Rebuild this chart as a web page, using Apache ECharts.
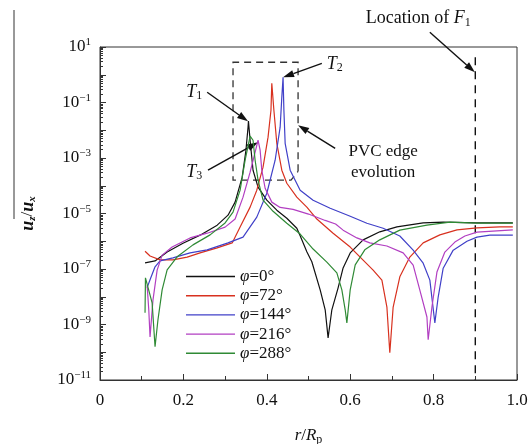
<!DOCTYPE html>
<html><head><meta charset="utf-8">
<script src="https://cdn.jsdelivr.net/npm/echarts@6/dist/echarts.min.js"></script>
<style>html,body{margin:0;padding:0;background:#fff}#c{width:532px;height:444px}</style>
</head><body><div id="c"></div>
<script>
// ---- data (x = r/Rp, y = log10(uz/ux)) ----
const seriesNames = ['φ=0°', 'φ=72°', 'φ=144°', 'φ=216°', 'φ=288°'];
const seriesColors = ['#111111', '#d8311f', '#4040c8', '#b23fc2', '#2f8a35'];

const phi0X = [0.108,0.132,0.161,0.199,0.240,0.281,0.307,0.324,0.341,0.350,0.355,0.356,0.360,0.367,0.379,0.400,0.424,0.448,0.472,0.480,0.496,0.508,0.528,0.540,0.547,0.556,0.571,0.583,0.600,0.631,0.671,0.712,0.775,0.823,0.904,0.990];
const phi0Log = [-6.78,-6.71,-6.39,-6.07,-5.78,-5.42,-5.06,-4.59,-3.69,-2.72,-1.89,-1.67,-2.36,-3.44,-4.05,-4.52,-4.88,-5.17,-5.53,-5.80,-6.38,-6.74,-7.75,-8.47,-9.48,-8.47,-7.68,-6.96,-6.42,-5.95,-5.66,-5.48,-5.34,-5.31,-5.34,-5.34];

const phi72X = [0.108,0.120,0.144,0.175,0.209,0.240,0.281,0.317,0.336,0.360,0.376,0.391,0.403,0.410,0.412,0.417,0.424,0.436,0.448,0.472,0.496,0.520,0.559,0.600,0.631,0.655,0.676,0.688,0.695,0.703,0.719,0.743,0.775,0.815,0.856,0.904,0.959,0.990];
const phi72Log = [-6.36,-6.53,-6.67,-6.67,-6.57,-6.42,-6.24,-6.06,-5.49,-4.77,-4.16,-3.33,-2.25,-1.28,-0.31,-1.28,-2.47,-3.44,-3.91,-4.41,-4.77,-5.20,-5.71,-6.21,-6.68,-7.04,-7.40,-8.37,-10.02,-8.37,-7.28,-6.57,-6.06,-5.77,-5.59,-5.52,-5.48,-5.48];

const phi144X = [0.113,0.120,0.132,0.144,0.175,0.216,0.257,0.307,0.343,0.376,0.400,0.420,0.432,0.436,0.439,0.441,0.444,0.456,0.480,0.511,0.552,0.600,0.640,0.679,0.719,0.751,0.775,0.791,0.803,0.811,0.823,0.847,0.880,0.904,0.935,0.990];
const phi144Log = [-7.67,-7.39,-6.92,-6.71,-6.60,-6.42,-6.31,-6.06,-5.85,-5.13,-4.27,-3.08,-1.89,-0.81,-0.09,-1.28,-2.47,-3.44,-4.16,-4.52,-4.81,-5.10,-5.35,-5.53,-5.81,-6.32,-6.79,-7.40,-8.94,-8.01,-6.97,-6.32,-6.00,-5.85,-5.78,-5.78];

const phi216X = [0.113,0.117,0.120,0.127,0.137,0.149,0.173,0.216,0.257,0.300,0.324,0.343,0.360,0.372,0.379,0.384,0.388,0.396,0.412,0.432,0.463,0.500,0.540,0.565,0.583,0.616,0.647,0.688,0.727,0.751,0.767,0.784,0.787,0.796,0.808,0.827,0.851,0.875,0.904,0.990];
const phi216Log = [-7.58,-8.48,-9.45,-8.12,-7.04,-6.50,-6.21,-5.88,-5.71,-5.49,-5.20,-4.41,-3.51,-2.79,-2.36,-2.72,-3.44,-4.09,-4.59,-4.78,-4.85,-5.02,-5.25,-5.38,-5.60,-5.88,-6.06,-6.17,-6.42,-6.86,-7.76,-8.73,-9.55,-8.37,-7.11,-6.39,-6.03,-5.81,-5.67,-5.59];

const phi288X = [0.108,0.109,0.125,0.132,0.139,0.149,0.161,0.185,0.223,0.264,0.300,0.319,0.336,0.348,0.360,0.367,0.372,0.379,0.391,0.415,0.448,0.480,0.511,0.544,0.568,0.580,0.588,0.592,0.600,0.612,0.635,0.671,0.719,0.784,0.839,0.904,0.990];
const phi288Log = [-8.58,-7.32,-8.22,-9.80,-8.83,-7.75,-7.03,-6.56,-6.13,-5.77,-5.34,-4.95,-4.16,-3.08,-2.21,-2.36,-3.08,-3.80,-4.52,-4.92,-5.35,-5.74,-6.28,-6.75,-7.14,-7.75,-8.47,-8.94,-7.75,-6.85,-6.31,-5.95,-5.60,-5.42,-5.31,-5.35,-5.35];

const yLabelExps = [1, -1, -3, -5, -7, -9, -11];
const yDecadeExps = [1,0,-1,-2,-3,-4,-5,-6,-7,-8,-9,-10,-11];
const fLocationX = 0.9;

// ---- chart ----
const FONT = '"Liberation Serif", "Times New Roman", serif';
const FS = 17;
const chart = echarts.init(document.getElementById('c'), null, {renderer: 'canvas'});

const xsList = [phi0X, phi72X, phi144X, phi216X, phi288X];
const lsList = [phi0Log, phi72Log, phi144Log, phi216Log, phi288Log];

const minorY = [];
for (let n = -11; n < 1; n++) for (let k = 2; k <= 9; k++) minorY.push(n + Math.log10(k));

const supRich = {
  b: {fontFamily: FONT, fontSize: FS, lineHeight: 20, color: '#111'},
  s: {fontFamily: FONT, fontSize: 11, lineHeight: 11, verticalAlign: 'top', color: '#111'}
};

chart.setOption({
  animation: false,
  backgroundColor: '#fff',
  grid: {left: 100, top: 47, width: 417, height: 333, show: true, borderColor: '#333', borderWidth: 1,
         containLabel: false, outerBoundsMode: 'none'},
  legend: {
    data: seriesNames, orient: 'vertical', left: 181, top: 263,
    icon: 'rect', itemWidth: 49, itemHeight: 1.4, itemGap: 2.2,
    formatter: n => '{i|φ}{r|' + n.slice(1) + '}',
    textStyle: {fontFamily: FONT, fontSize: FS, color: '#111', lineHeight: 17,
      rich: {i: {fontFamily: FONT, fontSize: FS, fontStyle: 'italic', color: '#111', lineHeight: 17},
             r: {fontFamily: FONT, fontSize: FS, color: '#111', lineHeight: 17}}}
  },
  xAxis: {
    type: 'value', min: 0, max: 1, interval: 0.2,
    axisLine: {show: true, onZero: false, lineStyle: {color: '#333', width: 1}},
    axisTick: {show: true, inside: true, length: 6, lineStyle: {color: '#333'}},
    minorTick: {show: true, splitNumber: 2, length: 4, lineStyle: {color: '#333'}},
    splitLine: {show: false},
    axisLabel: {margin: 12, fontFamily: FONT, fontSize: FS, color: '#111',
      formatter: v => v === 0 ? '0' : v.toFixed(1)},
    name: '{i|r}{n|/}{i|R}{s|p}', nameLocation: 'middle', nameGap: 46,
    nameTextStyle: {rich: {
      i: {fontFamily: FONT, fontSize: FS, fontStyle: 'italic', color: '#111', lineHeight: 20},
      n: {fontFamily: FONT, fontSize: FS, color: '#111', lineHeight: 20},
      s: {fontFamily: FONT, fontSize: 12, color: '#111', lineHeight: 12, verticalAlign: 'bottom'}}}
  },
  yAxis: [{
    type: 'value', min: -11, max: 1,
    axisLine: {show: true, onZero: false, lineStyle: {color: '#333', width: 1}},
    axisTick: {show: true, inside: true, length: 6, customValues: yDecadeExps, lineStyle: {color: '#333'}},
    splitLine: {show: false},
    axisLabel: {margin: 9, customValues: yLabelExps,
      formatter: v => { const e = Math.round(v); return '{b|10}{s|' + (e < 0 ? '−' : '') + Math.abs(e) + '}'; },
      rich: supRich},
    name: '{i|u}{s|z}{n|/}{i|u}{s|x}', nameLocation: 'middle', nameGap: 62, nameRotate: 90,
    nameTextStyle: {rich: {
      i: {fontFamily: FONT, fontSize: FS + 1, fontStyle: 'italic', fontWeight: 'bold', color: '#111', lineHeight: 20},
      n: {fontFamily: FONT, fontSize: FS, color: '#111', lineHeight: 20},
      s: {fontFamily: FONT, fontSize: 11, fontStyle: 'italic', fontWeight: 'bold', color: '#111', lineHeight: 11, verticalAlign: 'bottom'}}}
  }, {
    type: 'value', min: -11, max: 1, position: 'left', offset: 0,
    axisLine: {show: false, onZero: false},
    axisTick: {show: true, inside: true, length: 3, customValues: minorY, lineStyle: {color: '#333'}},
    axisLabel: {show: false}, splitLine: {show: false}
  }],
  series: seriesNames.map((name, i) => ({
    name, type: 'line', symbol: 'none', showSymbol: false, smooth: false,
    color: seriesColors[i],
    lineStyle: {color: seriesColors[i], width: 1.2},
    data: xsList[i].map((x, j) => [x, lsList[i][j]]),
    z: 2 + i
  }))
});

// ---- annotations placed through the axes ----
function P(x, L) { return chart.convertToPixel({xAxisIndex: 0, yAxisIndex: 0}, [x, L]); }
function arrow(a, b) {
  const dx = b[0] - a[0], dy = b[1] - a[1], len = Math.hypot(dx, dy);
  const ux = dx / len, uy = dy / len, h = 11, w = 3.6;
  const base = [b[0] - ux * h, b[1] - uy * h];
  return [
    {type: 'line', shape: {x1: a[0], y1: a[1], x2: base[0], y2: base[1]}, style: {stroke: '#111', lineWidth: 1.4}},
    {type: 'polygon', shape: {points: [b, [base[0] - uy * w, base[1] + ux * w], [base[0] + uy * w, base[1] - ux * w]]}, style: {fill: '#111'}}
  ];
}
const tRich = {
  t: {fontFamily: FONT, fontSize: FS + 1, fontStyle: 'italic', fill: '#111', lineHeight: 20},
  r: {fontFamily: FONT, fontSize: FS + 1, fill: '#111', lineHeight: 20},
  s: {fontFamily: FONT, fontSize: 12, fill: '#111', lineHeight: 12, verticalAlign: 'bottom'}
};
function label(p, text) {
  return {type: 'text', x: p[0], y: p[1], style: {text, rich: tRich, align: 'center', verticalAlign: 'middle', font: FS + 'px ' + FONT, fill: '#111'}};
}
const boxTL = P(0.319, 0.45), boxBR = P(0.475, -3.8), boxSlant = P(0.458, -3.8), boxSlantTop = P(0.475, -3.48);
const fTop = P(fLocationX, 0.63), fBot = P(fLocationX, -11);
const g = [
  {type: 'line', shape: {x1: 14, y1: 10, x2: 14, y2: 219}, style: {stroke: '#333', lineWidth: 1}},
  {type: 'polyline', shape: {points: [boxSlantTop, [boxBR[0], boxTL[1]], boxTL, [boxTL[0], boxBR[1]], boxSlant, boxSlantTop]},
   style: {stroke: '#333', lineWidth: 1.3, lineDash: [7, 5], fill: null}},
  {type: 'line', shape: {x1: fTop[0], y1: fTop[1], x2: fBot[0], y2: fBot[1]}, style: {stroke: '#111', lineWidth: 1.4, lineDash: [8, 6]}},
  label(P(0.763, 2.03), '{r|Location of }{t|F}{s|1}'),
  label(P(0.563, 0.38), '{t|T}{s|2}'),
  label(P(0.226, -0.63), '{t|T}{s|1}'),
  label(P(0.226, -3.5), '{t|T}{s|3}'),
  {type: 'text', x: P(0.679, -3.15)[0], y: P(0.679, -3.15)[1],
   style: {text: 'PVC edge\nevolution', font: FS + 'px ' + FONT, fill: '#111', align: 'center', verticalAlign: 'middle', lineHeight: 21}},
  ...arrow(P(0.791, 1.53), P(0.899, 0.09)),
  ...arrow(P(0.532, 0.41), P(0.439, -0.09)),
  ...arrow(P(0.257, -0.63), P(0.355, -1.68)),
  ...arrow(P(0.259, -3.44), P(0.379, -2.43)),
  ...arrow(P(0.564, -2.65), P(0.475, -1.82))
];
chart.setOption({graphic: g});
</script>
</body></html>
